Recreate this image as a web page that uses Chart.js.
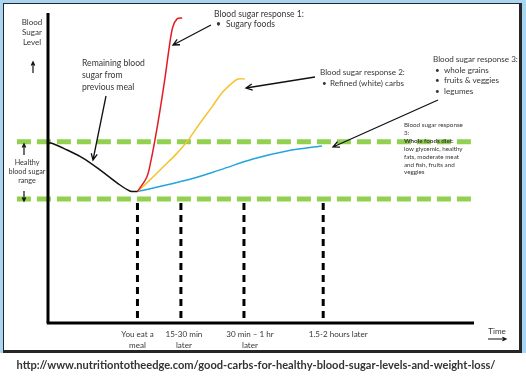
<!DOCTYPE html>
<html>
<head>
<meta charset="utf-8">
<script src="https://cdn.jsdelivr.net/npm/chart.js@4/dist/chart.umd.min.js"></script>
<style>
  html, body { margin: 0; padding: 0; background: #ffffff; }
</style>
</head>
<body>
<canvas id="c" width="526" height="380"></canvas>
<script>
// ---- DATA (conceptual units: time 0..100 along x, blood sugar level 0..100 along y) ----
const timePoints = [21, 31.2, 46, 64.6];
const timeLabels = [["You eat a", "meal"], ["15-30 min", "later"], ["30 min \u2013 1 hr", "later"], ["1.5-2 hours later"]];
const healthyRange = [40, 58.5];
const dashedTop = 38.7;
const dashedBottom = 1.6;

const previousMeal = [[0, 58], [0.9, 58], [4.5, 55.8], [8.2, 53.2], [12.2, 49.4], [16.2, 45.2], [19.2, 42.6], [21, 42.4]];
const sugaryFoods = [[21, 42.4], [23.2, 47.1], [24.2, 52.6], [25.1, 59.0], [26.3, 68.7], [27.5, 79.4], [28.6, 90.3], [29.3, 95.5], [30.3, 98.1], [31.5, 98.4]];
const refinedCarbs = [[21, 42.4], [23.9, 46.1], [27.0, 50.3], [30.3, 54.8], [32.9, 59.0], [35.7, 64.5], [38.5, 69.7], [40.8, 74.2], [43.2, 77.4], [44.6, 78.7], [46.2, 78.7]];
const wholeFoods = [[21, 42.4], [32.6, 46.1], [40.4, 49.4], [48.1, 52.9], [56.1, 55.5], [64.3, 57.1]];

const xRange = [0, 100];
const yRange = [0, 100];
const rangeLineStart = -7.3;

// ---- STYLE ----
const FONT = "Lato, 'Open Sans', sans-serif";
const TEXT = "#363636";
const GREEN = "#92d050";

const pts = arr => arr.map(p => ({ x: p[0], y: p[1] }));

const datasets = [];
datasets.push({ data: [{ x: xRange[0], y: yRange[0] }, { x: xRange[0], y: yRange[1] }], borderColor: "#000", borderWidth: 3, order: 1 });
datasets.push({ data: [{ x: xRange[0] - 0.3, y: yRange[0] }, { x: xRange[1], y: yRange[0] }], borderColor: "#000", borderWidth: 3, order: 1 });
healthyRange.forEach(v => datasets.push({
  data: [{ x: rangeLineStart, y: v }, { x: xRange[1], y: v }],
  borderColor: GREEN, borderWidth: 5, borderDash: [14, 6], order: 5
}));
timePoints.forEach(t => datasets.push({
  data: [{ x: t, y: dashedTop }, { x: t, y: dashedBottom }],
  borderColor: "#000", borderWidth: 3, borderDash: [7, 5], order: 4
}));
datasets.push({ data: pts(previousMeal), borderColor: "#111", borderWidth: 1.5, tension: 0.35, order: 2 });
datasets.push({ data: pts(sugaryFoods), borderColor: "#e31b23", borderWidth: 1.5, tension: 0.35, order: 2 });
datasets.push({ data: pts(refinedCarbs), borderColor: "#f7c230", borderWidth: 1.5, tension: 0.35, order: 2 });
datasets.push({ data: pts(wholeFoods), borderColor: "#23a6dc", borderWidth: 1.5, tension: 0.35, order: 2 });

datasets.forEach(d => { d.pointRadius = 0; d.fill = false; d.clip = false; d.borderCapStyle = 'butt'; });

function setFont(ctx, size, weight) { ctx.font = (weight || "normal") + " " + size + "px " + FONT; }
function fitSize(ctx, s, width, weight) { setFont(ctx, 10, weight); return 10 * width / ctx.measureText(s).width; }
function text(ctx, s, x, y, size, align, weight, color) {
  setFont(ctx, size, weight);
  ctx.textAlign = align || "left";
  ctx.textBaseline = "middle";
  ctx.fillStyle = color || TEXT;
  ctx.fillText(s, x, y);
}
function arrow(ctx, x1, y1, x2, y2, head, w) {
  ctx.save();
  ctx.strokeStyle = "#111";
  ctx.lineWidth = w || 1.3;
  ctx.beginPath();
  ctx.moveTo(x1, y1); ctx.lineTo(x2, y2);
  const a = Math.atan2(y2 - y1, x2 - x1), h = head || 7;
  ctx.moveTo(x2 - h * Math.cos(a - 0.45), y2 - h * Math.sin(a - 0.45));
  ctx.lineTo(x2, y2);
  ctx.lineTo(x2 - h * Math.cos(a + 0.45), y2 - h * Math.sin(a + 0.45));
  ctx.stroke();
  ctx.restore();
}

const framePlugin = {
  id: "frame",
  beforeDraw(chart) {
    const ctx = chart.ctx;
    ctx.save();
    ctx.fillStyle = "#ffffff"; ctx.fillRect(0, 0, 526, 380);
    ctx.fillStyle = "#a9d5f0"; ctx.fillRect(0, 0, 526, 353);
    ctx.fillStyle = "#262626"; ctx.fillRect(3, 3, 519, 350);
    ctx.fillStyle = "#ffffff"; ctx.fillRect(4, 4, 515, 346);
    ctx.restore();
  }
};

const labelPlugin = {
  id: "labels",
  afterDatasetsDraw(chart) {
    const ctx = chart.ctx;
    const xs = chart.scales.x;
    ctx.save();
    let f = fitSize(ctx, "blood sugar", 37);
    ["Blood", "Sugar", "Level"].forEach((s, i) => text(ctx, s, 32, 22 + i * 10, f + 0.8, "center"));
    arrow(ctx, 33, 73, 33, 62, 4, 1.2);
    ["Healthy", "blood sugar", "range"].forEach((s, i) => text(ctx, s, 27, 163 + i * 8.7, f, "center"));
    arrow(ctx, 24, 155, 24, 144, 4, 1.2);
    arrow(ctx, 24, 191, 24, 201, 4, 1.2);

    f = fitSize(ctx, "Remaining blood", 63);
    ["Remaining blood", "sugar from", "previous meal"].forEach((s, i) => text(ctx, s, 82, 63 + i * 12, f));
    arrow(ctx, 106, 96, 93, 160, 7);

    f = fitSize(ctx, "Blood sugar response 1:", 90);
    text(ctx, "Blood sugar response 1:", 214, 14, f);
    text(ctx, "\u2022", 216, 24, f); text(ctx, "Sugary foods", 226, 24, f);
    arrow(ctx, 211, 25, 173, 45, 7);

    f = fitSize(ctx, "Blood sugar response 2:", 85);
    text(ctx, "Blood sugar response 2:", 320, 72, f);
    text(ctx, "\u2022", 322, 83, f); text(ctx, "Refined (white) carbs", 330, 83, f);
    arrow(ctx, 315, 77, 246, 88, 7);

    text(ctx, "Blood sugar response 3:", 433, 59, f);
    ["whole grains", "fruits & veggies", "legumes"].forEach((s, i) => {
      text(ctx, "\u2022", 435, 70 + i * 10.5, f);
      text(ctx, s, 444, 70 + i * 10.5, f);
    });
    arrow(ctx, 438, 100, 333, 147, 7);

    f = fitSize(ctx, "Blood sugar response", 59);
    const small = ["Blood sugar response", "3:", "Whole foods diet:", "low glycemic, healthy", "fats, moderate meat", "and fish, fruits and", "veggies"];
    small.forEach((s, i) => text(ctx, s, 404, 125 + i * 7.9, f, "left", i === 2 ? "bold" : "normal"));

    f = fitSize(ctx, "1.5-2 hours later", 59);
    const offs = [0, 3, 6, 15];
    timeLabels.forEach((lines, i) => {
      const px = xs.getPixelForValue(timePoints[i]) + offs[i];
      lines.forEach((s, j) => text(ctx, s, px, 334 + j * 11.8, f, "center"));
    });
    text(ctx, "Time", 497, 331, f, "center");
    arrow(ctx, 488, 339, 506, 339, 4, 1.2);

    const url = "http://www.nutritiontotheedge.com/good-carbs-for-healthy-blood-sugar-levels-and-weight-loss/";
    f = fitSize(ctx, url, 480, "bold");
    text(ctx, url, 256, 365, f, "center", "bold", "#333");
    ctx.restore();
  }
};

new Chart(document.getElementById("c"), {
  type: "line",
  data: { datasets },
  options: {
    responsive: false,
    animation: false,
    devicePixelRatio: 1,
    layout: { padding: { left: 48, top: 13, right: 52, bottom: 57 } },
    plugins: { legend: { display: false }, tooltip: { enabled: false } },
    scales: {
      x: { type: "linear", min: xRange[0], max: xRange[1], display: false },
      y: { type: "linear", min: yRange[0], max: yRange[1], display: false }
    }
  },
  plugins: [framePlugin, labelPlugin]
});
</script>
</body>
</html>
